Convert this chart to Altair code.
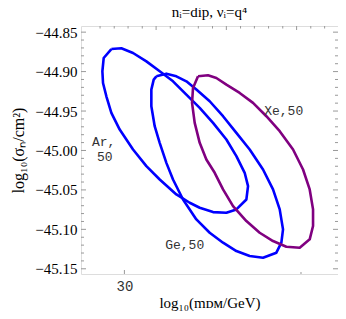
import altair as alt
import pandas as pd

# ---- curve data (log10 mass, log10 cross-section) ----
ar_x = [1.4385, 1.4681, 1.5027, 1.5422, 1.5817, 1.6211, 1.6606, 1.7001, 1.7396, 1.7791,
        1.8087, 1.8333, 1.8432, 1.8383, 1.8087, 1.7791, 1.7396, 1.7001, 1.6705, 1.6310,
        1.5817, 1.5422, 1.5027, 1.4632, 1.4385, 1.4237, 1.4138, 1.4119, 1.4158]
ar_y = [-44.8714, -44.8705, -44.8764, -44.8870, -44.8996, -44.9123, -44.9292, -44.9460, -44.9650, -44.9861,
        -45.0072, -45.0283, -45.0452, -45.0621, -45.0747, -45.0790, -45.0781, -45.0726, -45.0663, -45.0557,
        -45.0368, -45.0199, -44.9988, -44.9735, -44.9524, -44.9313, -44.9144, -44.8996, -44.8828]

ge_x = [1.5718, 1.6014, 1.6310, 1.6606, 1.6902, 1.7297, 1.7692, 1.8087, 1.8481, 1.8876,
        1.9172, 1.9370, 1.9468, 1.9419, 1.9271, 1.8876, 1.8481, 1.8087, 1.7692, 1.7297,
        1.6902, 1.6507, 1.6211, 1.6014, 1.5816, 1.5668, 1.5569, 1.5569, 1.5639]
ge_y = [-44.9060, -44.9026, -44.9060, -44.9123, -44.9228, -44.9376, -44.9566, -44.9777, -44.9988, -45.0241,
        -45.0494, -45.0747, -45.1000, -45.1169, -45.1296, -45.1359, -45.1338, -45.1275, -45.1169, -45.1043,
        -45.0874, -45.0621, -45.0368, -45.0157, -44.9903, -44.9692, -44.9439, -44.9228, -44.9102]

xe_x = [1.6951, 1.7247, 1.7494, 1.7791, 1.8185, 1.8580, 1.8975, 1.9370, 1.9765, 2.0061,
        2.0258, 2.0357, 2.0357, 2.0258, 1.9962, 1.9567, 1.9172, 1.8777, 1.8383, 1.7988,
        1.7692, 1.7445, 1.7198, 1.7001, 1.6853, 1.6774, 1.6803]
xe_y = [-44.9060, -44.9047, -44.9081, -44.9165, -44.9271, -44.9397, -44.9566, -44.9756, -44.9988, -45.0241,
        -45.0494, -45.0747, -45.0958, -45.1127, -45.1233, -45.1220, -45.1148, -45.1043, -45.0895, -45.0705,
        -45.0494, -45.0283, -45.0114, -44.9903, -44.9650, -44.9397, -44.9207]

curve_names = ["Ar", "Ge", "Xe"]
curve_colors = ["#0000ff", "#0000ff", "#800080"]

# ---- labels ----
lab_text = ["Ar,", "50", "Xe,50", "Ge,50"]
lab_x = [1.4158, 1.4188, 1.9488, 1.6557]
lab_y = [-44.9887, -45.0089, -44.9494, -45.1203]

# ---- axes / ticks ----
x_domain = [1.3486, 2.1096]
y_domain = [-45.1566, -44.8422]
y_major = [-45.15, -45.10, -45.05, -45.00, -44.95, -44.90, -44.85]
y_minor = [-45.14, -45.13, -45.12, -45.11, -45.09, -45.08, -45.07, -45.06,
           -45.04, -45.03, -45.02, -45.01, -44.99, -44.98, -44.97, -44.96,
           -44.94, -44.93, -44.92, -44.91, -44.89, -44.88, -44.87, -44.86]
x_bottom_major = [1.4771]
x_bottom_label = ["30"]
x_bottom_minor = [2.0]
x_top_major = [1.571, 1.779, 1.987]
x_top_minor = [1.405, 1.447, 1.488, 1.530, 1.613, 1.654, 1.696, 1.738,
               1.821, 1.862, 1.904, 1.946, 2.029, 2.070]

W, H = 257, 248

rows = []
for name, xs, ys in zip(curve_names, [ar_x, ge_x, xe_x], [ar_y, ge_y, xe_y]):
    for i, (xv, yv) in enumerate(zip(xs + [xs[0]], ys + [ys[0]])):
        rows.append({"curve": name, "x": xv, "y": yv, "o": i})
df = pd.DataFrame(rows)

xscale = alt.Scale(domain=x_domain, nice=False, zero=False)
yscale = alt.Scale(domain=y_domain, nice=False, zero=False)

x_axis = alt.Axis(values=x_bottom_major, labelExpr="'" + x_bottom_label[0] + "'",
                  ticks=False, domain=False, grid=False,
                  labelFont="Liberation Mono", labelFontSize=14, labelColor="#333333",
                  labelPadding=5,
                  title="log₁₀(mᴅᴍ/GeV)", titleFont="Liberation Serif", titleFontSize=15,
                  titleFontWeight="normal", titleColor="black", titlePadding=2)
y_axis = alt.Axis(values=y_major, format=".2f", ticks=False, domain=False, grid=False,
                  labelFont="Liberation Serif", labelFontSize=15, labelColor="black",
                  labelPadding=4,
                  title="log₁₀(σₙ/cm²)", titleFont="Liberation Serif", titleFontSize=16,
                  titleFontWeight="normal", titleColor="black", titlePadding=8)

lines = alt.Chart(df).mark_line(strokeWidth=2.6, strokeJoin="round", clip=True).encode(
    x=alt.X("x:Q", scale=xscale, axis=x_axis),
    y=alt.Y("y:Q", scale=yscale, axis=y_axis),
    color=alt.Color("curve:N", scale=alt.Scale(domain=curve_names, range=curve_colors), legend=None),
    detail="curve:N",
    order="o:Q",
)

lab_df = pd.DataFrame({"t": lab_text, "x": lab_x, "y": lab_y})
labels = alt.Chart(lab_df).mark_text(font="Liberation Mono", fontSize=13, color="#333333",
                                     align="center", baseline="middle").encode(
    x=alt.X("x:Q", scale=xscale, axis=x_axis),
    y=alt.Y("y:Q", scale=yscale, axis=y_axis),
    text="t:N",
)

tick_color = "#999999"
ymaj = pd.DataFrame({"y": y_major})
ymin = pd.DataFrame({"y": y_minor})

def yticks(d, x0, x1):
    return alt.Chart(d).mark_rule(color=tick_color, strokeWidth=1).encode(
        y=alt.Y("y:Q", scale=yscale, axis=y_axis), x=alt.value(x0), x2=alt.value(x1))

def xticks(d, y0, y1):
    return alt.Chart(d).mark_rule(color=tick_color, strokeWidth=1).encode(
        x=alt.X("x:Q", scale=xscale, axis=x_axis), y=alt.value(y0), y2=alt.value(y1))

ticks = [
    yticks(ymaj, 0, 5), yticks(ymin, 0, 3),
    yticks(ymaj, W, W - 5), yticks(ymin, W, W - 3),
    xticks(pd.DataFrame({"x": x_top_major}), 0, 4),
    xticks(pd.DataFrame({"x": x_top_minor}), 0, 2.5),
    xticks(pd.DataFrame({"x": x_bottom_major}), H, H - 4),
    xticks(pd.DataFrame({"x": x_bottom_minor}), H, H - 2),
]

chart = alt.layer(*ticks, lines, labels).properties(
    width=W, height=H,
    title=alt.TitleParams("nᵢ=dip, νᵢ=q⁴", font="Liberation Serif", fontSize=15,
                          fontWeight="normal", color="black", anchor="middle", offset=5),
    autosize=alt.AutoSizeParams(type="none"),
    padding={"left": 73, "top": 18, "right": 0, "bottom": 37},
).configure_view(stroke="#999999", strokeWidth=1).configure(background="white")

chart.save("out.html", embed_options={"renderer": "svg", "actions": False})
